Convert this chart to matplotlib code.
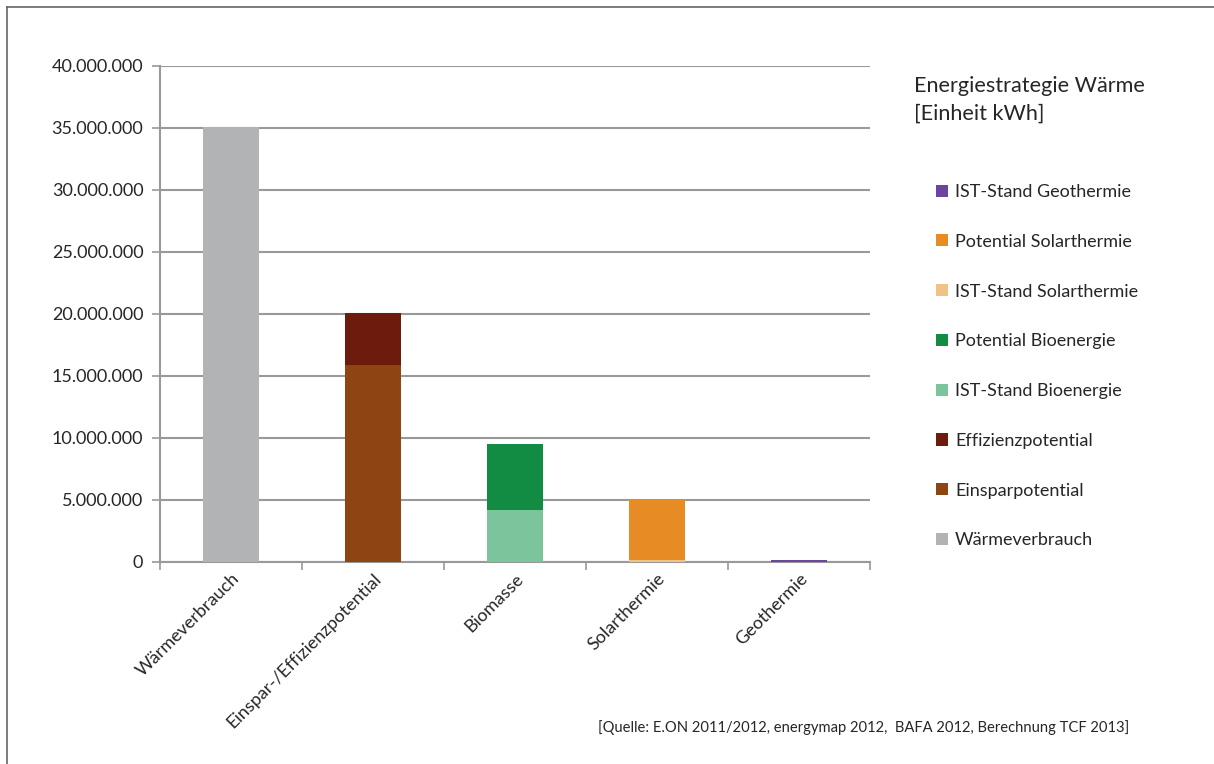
import numpy as np
import matplotlib
matplotlib.use('Agg')
import matplotlib.pyplot as plt
from matplotlib.patches import Patch
from matplotlib.ticker import FuncFormatter

plt.rcParams['font.family'] = ['Lato', 'DejaVu Sans']

# Kategorien und Werte (kWh)
categories = ['Wärmeverbrauch', 'Einspar-/Effizienzpotential', 'Biomasse',
              'Solarthermie', 'Geothermie']

waermeverbrauch = [35100000, 0, 0, 0, 0]
einsparpotential = [0, 15900000, 0, 0, 0]
effizienzpotential = [0, 4200000, 0, 0, 0]
ist_bio = [0, 0, 4200000, 0, 0]
pot_bio = [0, 0, 5300000, 0, 0]
ist_solar = [0, 0, 0, 150000, 0]
pot_solar = [0, 0, 0, 4850000, 0]
ist_geo = [0, 0, 0, 0, 130000]

series = [
    ('Wärmeverbrauch', waermeverbrauch, '#B1B3B5'),
    ('Einsparpotential', einsparpotential, '#8E4514'),
    ('Effizienzpotential', effizienzpotential, '#6C1B0D'),
    ('IST-Stand Bioenergie', ist_bio, '#7CC59C'),
    ('Potential Bioenergie', pot_bio, '#138C43'),
    ('IST-Stand Solarthermie', ist_solar, '#F2C186'),
    ('Potential Solarthermie', pot_solar, '#E78B24'),
    ('IST-Stand Geothermie', ist_geo, '#6C45A0'),
]

yticks = [0, 5000000, 10000000, 15000000, 20000000, 25000000, 30000000,
          35000000, 40000000]

W, H = 1214, 764
fig = plt.figure(figsize=(W / 100, H / 100), dpi=100)
ax = fig.add_axes([160 / W, 1 - 562 / H, 710 / W, 496 / H])

x = np.arange(len(categories))
bottom = np.zeros(len(categories))
for name, vals, col in series:
    vals = np.array(vals, dtype=float)
    ax.bar(x, vals, width=0.39, bottom=bottom, color=col, zorder=3)
    bottom += vals

ax.set_xlim(-0.5, len(categories) - 0.5)
ax.set_ylim(0, 40000000)
ax.set_yticks(yticks)
ax.yaxis.set_major_formatter(FuncFormatter(lambda v, p: f'{int(v):,}'.replace(',', '.')))
ax.grid(axis='y', color='#999999', linewidth=1.5, zorder=0)

ax.set_xticks(x)
ax.set_xticklabels(categories, rotation=45, ha='right', va='top',
                   rotation_mode='anchor', fontsize=13, color='#262626')
ax.tick_params(axis='x', which='major', length=0, pad=6)
ax.set_xticks(np.arange(len(categories) + 1) - 0.5, minor=True)
ax.tick_params(axis='x', which='minor', length=6, width=1.2, color='#999999')
ax.tick_params(axis='y', length=6, width=1.2, color='#999999', labelsize=13,
               labelcolor='#262626', pad=6)

for s in ['top', 'right']:
    ax.spines[s].set_visible(False)
for s in ['left', 'bottom']:
    ax.spines[s].set_color('#999999')
    ax.spines[s].set_linewidth(1.5)

# Legende
handles = [Patch(facecolor=col, label=name) for name, vals, col in series][::-1]
fig.legend(handles=handles, loc='upper left', bbox_to_anchor=(936 / W, 1 - 184 / H),
           frameon=False, fontsize=13, handlelength=0.65, handleheight=0.65,
           handletextpad=0.4, labelspacing=1.87, borderpad=0, borderaxespad=0,
           labelcolor='#262626')

fig.text(914 / W, 1 - 86 / H, 'Energiestrategie Wärme', fontsize=15.6,
         color='#262626', va='center')
fig.text(914 / W, 1 - 114 / H, '[Einheit kWh]', fontsize=15.6,
         color='#262626', va='center')

fig.text(598 / W, 1 - 728 / H,
         '[Quelle: E.ON 2011/2012, energymap 2012,  BAFA 2012, Berechnung TCF 2013]',
         fontsize=10.6, color='#262626', va='center')

# Rahmen oben und links
fig.add_artist(plt.Line2D([7 / W, 1], [1 - 7 / H, 1 - 7 / H], color='#666666', lw=1.2))
fig.add_artist(plt.Line2D([7 / W, 7 / W], [0, 1 - 7 / H], color='#666666', lw=1.2))

fig.savefig('out.png', dpi=100)
